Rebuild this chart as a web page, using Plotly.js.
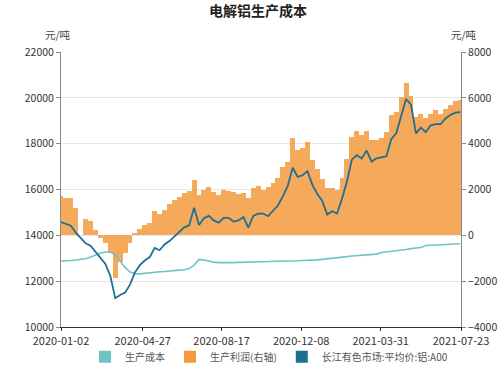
<!DOCTYPE html>
<html><head><meta charset="utf-8">
<script src="https://cdn.plot.ly/plotly-3.0.1.min.js"></script>
<style>html,body{margin:0;padding:0;background:#fff}#chart{width:500px;height:368px}</style>
</head><body><div id="chart"></div>
<script>
const dates = ['2020-01-02','2020-01-09','2020-01-16','2020-01-23','2020-01-30','2020-02-06','2020-02-13','2020-02-20','2020-02-27','2020-03-05',
'2020-03-12','2020-03-19','2020-03-26','2020-04-02','2020-04-09','2020-04-16','2020-04-23','2020-04-30','2020-05-07','2020-05-14',
'2020-05-21','2020-05-28','2020-06-04','2020-06-11','2020-06-18','2020-06-25','2020-07-02','2020-07-09','2020-07-16','2020-07-23',
'2020-07-30','2020-08-06','2020-08-13','2020-08-20','2020-08-27','2020-09-03','2020-09-10','2020-09-17','2020-09-24','2020-10-01',
'2020-10-08','2020-10-15','2020-10-22','2020-10-29','2020-11-05','2020-11-12','2020-11-19','2020-11-26','2020-12-03','2020-12-10',
'2020-12-17','2020-12-24','2020-12-31','2021-01-07','2021-01-14','2021-01-21','2021-01-28','2021-02-04','2021-02-11','2021-02-18',
'2021-02-25','2021-03-04','2021-03-11','2021-03-18','2021-03-25','2021-04-01','2021-04-08','2021-04-15','2021-04-22','2021-04-29',
'2021-05-06','2021-05-13','2021-05-20','2021-05-27','2021-06-03','2021-06-10','2021-06-17','2021-06-24','2021-07-01','2021-07-08',
'2021-07-15','2021-07-22'];

// 长江有色市场:平均价:铝:A00 (元/吨, left axis)
const price = [14576,14500,14420,14117,null,13650,13550,13300,13000,12750,
12237,11259,11400,11500,11850,12385,12700,12900,13050,13450,
13350,13600,13750,13950,14150,14350,14440,15200,14450,14750,
14850,14650,14550,14766,14766,14600,14650,14800,14333,14850,
14950,14950,14836,15052,15300,15702,16150,16950,16550,16620,
16800,16200,15800,15500,14909,15052,14950,15600,16350,17300,
17500,17350,17700,17217,17364,17400,17450,18200,18450,19200,
19950,19700,18450,18700,18500,18800,18850,18850,19100,19250,
19350,19380];

// 生产成本 (元/吨, left axis)
const cost = [12880,12880,12900,12920,null,12980,13050,13150,13230,13270,
13270,13150,12850,12600,12400,12330,12320,12350,12380,12400,
12410,12420,12450,12460,12480,12500,12550,12700,12950,12920,
12870,12830,12810,12800,12800,12810,12820,12820,12830,12840,
12840,12850,12860,12860,12860,12870,12870,12880,12890,12900,
12900,12910,12930,12950,12970,12990,13000,13030,13070,13100,
13120,13140,13160,13170,13180,13250,13270,13300,13330,13360,
13380,13420,13450,13470,13560,13570,13580,13590,13600,13610,
13620,13630];

// 生产利润(右轴) (元/吨, right axis)
const profit = [1700,1630,1650,1200,null,700,620,250,-100,-317,
-750,-1850,-1182,-750,-317,100,260,450,550,1050,
950,1100,1370,1530,1670,1850,1920,2425,1780,2000,
2100,1900,1750,2000,1950,1900,1800,1850,1631,2065,
2136,1992,2100,2280,2500,3000,3200,4230,3724,3800,
4083,3300,2900,2450,2065,2065,1992,2500,3350,4300,
4550,4400,4550,4157,4157,4230,4500,5240,5400,6030,
6650,6100,5150,5300,5100,5300,5450,5300,5530,5700,
5850,5900];

const tickDates = ['2020-01-02','2020-04-27','2020-08-17','2020-12-08','2021-03-31','2021-07-23'];
const names = ['生产成本','生产利润(右轴)','长江有色市场:平均价:铝:A00'];
const colors = ['#6cc5c3','#f39a3e','#1f6f8f'];

const FONT = '"Noto Sans CJK SC", "Noto Sans", sans-serif';
const DAY = 86400000;

const data = [
  {type:'bar', x:dates, y:profit, yaxis:'y', name:names[1], marker:{color:colors[1], opacity:0.85, line:{width:0}}, width:7*DAY, legendrank:2, showlegend:true},
  {type:'scatter', mode:'lines', x:dates, y:cost, yaxis:'y2', name:names[0], line:{color:colors[0], width:1.6}, connectgaps:true, showlegend:false},
  {type:'scatter', mode:'lines', x:dates, y:price, yaxis:'y2', name:names[2], line:{color:colors[2], width:1.8}, connectgaps:true, showlegend:false},
  {type:'bar', x:[null], y:[null], yaxis:'y', name:names[0], marker:{color:colors[0]}, legendrank:1, hoverinfo:'skip'},
  {type:'bar', x:[null], y:[null], yaxis:'y', name:names[2], marker:{color:colors[2]}, legendrank:3, hoverinfo:'skip'}
];

const layout = {
  width:500, height:368,
  margin:{l:61, r:39, t:52, b:41, autoexpand:false},
  paper_bgcolor:'#fff', plot_bgcolor:'#fff',
  font:{family:FONT, size:11, color:'#333'},
  barmode:'overlay', bargap:0,
  title:{text:'<b>电解铝生产成本</b>', x:0.516, xanchor:'center', y:0.97, yanchor:'middle', font:{family:FONT, size:14, color:'#222'}},
  showlegend:true,
  legend:{orientation:'h', x:0.52, xanchor:'center', y:-0.108, yanchor:'middle', bgcolor:'rgba(0,0,0,0)', font:{family:FONT, size:10, color:'#555'}, traceorder:'normal', itemwidth:30},
  xaxis:{type:'date', range:['2020-01-02','2021-07-23'], tickvals:tickDates, ticktext:tickDates,
    showline:true, linecolor:'#333', linewidth:1, ticks:'outside', ticklen:3, tickcolor:'#333', showgrid:false, zeroline:false,
    ticklabelstandoff:1,
    tickfont:{family:FONT, size:11, color:'#333'}},
  yaxis:{side:'right', range:[-4000,8000], dtick:2000, tick0:-4000, showgrid:true, gridcolor:'#e6e6e6', gridwidth:1,
    showline:true, linecolor:'#888', ticks:'outside', ticklen:4, tickcolor:'#888', zeroline:false,
    tickformat:'d', tickfont:{family:FONT, size:10.5, color:'#333'}},
  yaxis2:{overlaying:'y', side:'left', range:[10000,22000], dtick:2000, tick0:10000, showgrid:false,
    showline:true, linecolor:'#888', ticks:'outside', ticklen:4, tickcolor:'#888', zeroline:false,
    tickformat:'d', tickfont:{family:FONT, size:10.5, color:'#333'}},
  annotations:[
    {text:'元/吨', xref:'paper', yref:'paper', x:0, xanchor:'right', xshift:12, y:1, yanchor:'bottom', yshift:8, showarrow:false, font:{family:FONT, size:10.5, color:'#444'}},
    {text:'元/吨', xref:'paper', yref:'paper', x:1, xanchor:'left', xshift:-12, y:1, yanchor:'bottom', yshift:8, showarrow:false, font:{family:FONT, size:10.5, color:'#444'}}
  ]
};

Plotly.newPlot('chart', data, layout, {displayModeBar:false, staticPlot:true});
</script></body></html>
